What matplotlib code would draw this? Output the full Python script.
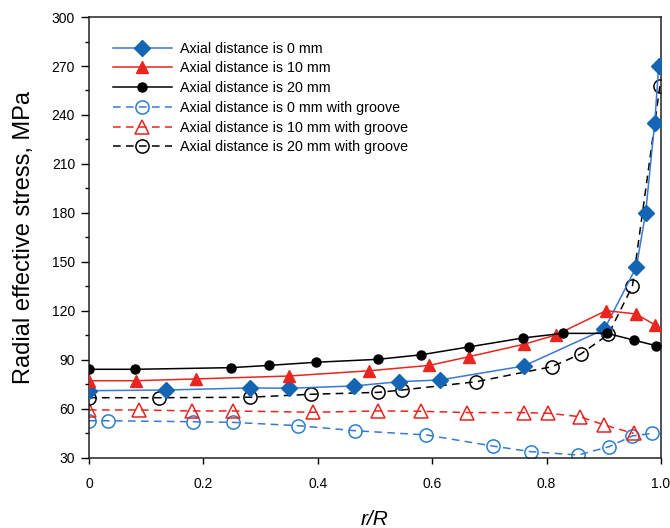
import matplotlib
matplotlib.use("Agg")
import matplotlib.pyplot as plt

plt.rcParams['font.family'] = ['Liberation Sans', 'DejaVu Sans']

# Axial distance 0 mm
x_0 = [0.0, 0.134, 0.281, 0.350, 0.463, 0.542, 0.614, 0.760, 0.901, 0.957, 0.973, 0.989, 0.996]
y_0 = [71.2, 71.6, 72.9, 72.7, 74.1, 76.7, 77.8, 86.3, 108.8, 147.1, 179.8, 235.3, 270.2]

# Axial distance 10 mm
x_10 = [0.0, 0.082, 0.187, 0.350, 0.490, 0.595, 0.664, 0.760, 0.816, 0.904, 0.956, 0.990]
y_10 = [77.3, 77.3, 78.4, 80.2, 83.4, 86.7, 92.0, 99.6, 105.3, 120.2, 118.2, 111.4]

# Axial distance 20 mm
x_20 = [0.0, 0.080, 0.248, 0.315, 0.396, 0.505, 0.581, 0.664, 0.759, 0.828, 0.906, 0.952, 0.992]
y_20 = [84.3, 84.3, 85.3, 86.7, 88.6, 90.4, 93.2, 98.0, 103.5, 106.3, 106.3, 102.2, 98.7]

# with groove
xg_0 = [0.0, 0.034, 0.182, 0.252, 0.365, 0.465, 0.590, 0.706, 0.772, 0.855, 0.909, 0.950, 0.985]
yg_0 = [52.8, 52.8, 52.2, 51.8, 49.8, 46.7, 44.1, 37.3, 33.9, 31.8, 36.9, 43.5, 45.1]

xg_10 = [0.0, 0.088, 0.180, 0.252, 0.392, 0.505, 0.580, 0.660, 0.760, 0.803, 0.858, 0.901, 0.952]
yg_10 = [59.4, 59.4, 58.8, 58.8, 58.0, 58.8, 58.6, 57.8, 57.8, 57.4, 55.3, 50.2, 45.1]

xg_20 = [0.0, 0.123, 0.281, 0.388, 0.506, 0.547, 0.677, 0.809, 0.860, 0.908, 0.950, 0.998]
yg_20 = [66.9, 66.9, 67.2, 69.0, 70.2, 71.6, 76.7, 85.9, 93.7, 105.7, 135.3, 257.7]

labels = ["Axial distance is 0 mm", "Axial distance is 10 mm", "Axial distance is 20 mm",
          "Axial distance is 0 mm with groove", "Axial distance is 10 mm with groove",
          "Axial distance is 20 mm with groove"]

BLUE_LINE = '#3b78d0'
BLUE_MK = '#1565b5'
RED = '#e8251f'

fig = plt.figure(figsize=(6.7, 5.28), dpi=100)
ax = fig.add_axes([0.1328, 0.1326, 0.8538, 0.8352])

dash = (5, 3.5)
ax.plot(x_0, y_0, '-', color=BLUE_LINE, lw=1.1, marker='D', ms=8, mfc=BLUE_MK, mec=BLUE_MK, label=labels[0], zorder=3)
ax.plot(x_10, y_10, '-', color=RED, lw=1.1, marker='^', ms=8, mfc=RED, mec=RED, label=labels[1], zorder=3)
ax.plot(x_20, y_20, '-', color='black', lw=1.1, marker='o', ms=6.5, mfc='black', mec='black', label=labels[2], zorder=3)
ax.plot(xg_0, yg_0, color=BLUE_LINE, lw=1.1, dashes=dash, marker='o', ms=9.5, mfc='none', mec='#2a7fd0', mew=1.1, label=labels[3], zorder=2)
ax.plot(xg_10, yg_10, color=RED, lw=1.1, dashes=dash, marker='^', ms=9.5, mfc='none', mec=RED, mew=1.1, label=labels[4], zorder=2)
ax.plot(xg_20, yg_20, color='black', lw=1.1, dashes=dash, marker='o', ms=9.5, mfc='none', mec='black', mew=1.1, label=labels[5], zorder=2)

ax.set_xlim(0, 1.0)
ax.set_ylim(30, 300)
ax.set_xticks([0, 0.2, 0.4, 0.6, 0.8, 1.0])
ax.set_xticklabels(['0', '0.2', '0.4', '0.6', '0.8', '1.0'])
ax.set_yticks(range(30, 301, 30))
ax.set_yticks(range(45, 300, 30), minor=True)
ax.tick_params(axis='y', which='major', direction='out', length=6, width=1, labelsize=10, pad=4)
ax.tick_params(axis='y', which='minor', direction='out', length=3, width=1)
ax.tick_params(axis='x', which='major', direction='out', length=4, width=1, labelsize=10, pad=10)
for s in ax.spines.values():
    s.set_linewidth(1.1)
    s.set_color('#222222')

ax.set_xlabel('r/R', fontsize=15, fontstyle='italic')
ax.xaxis.set_label_coords(0.5, -0.118)
ax.set_ylabel('Radial effective stress, MPa', fontsize=17)
ax.yaxis.set_label_coords(-0.095, 0.5)

ax.legend(loc='upper left', bbox_to_anchor=(0.042, 0.944), frameon=False, fontsize=10.3,
          handlelength=4.1, handletextpad=0.6, labelspacing=0.4, borderpad=0, borderaxespad=0,
          numpoints=1)

fig.savefig('out.png', dpi=100)
